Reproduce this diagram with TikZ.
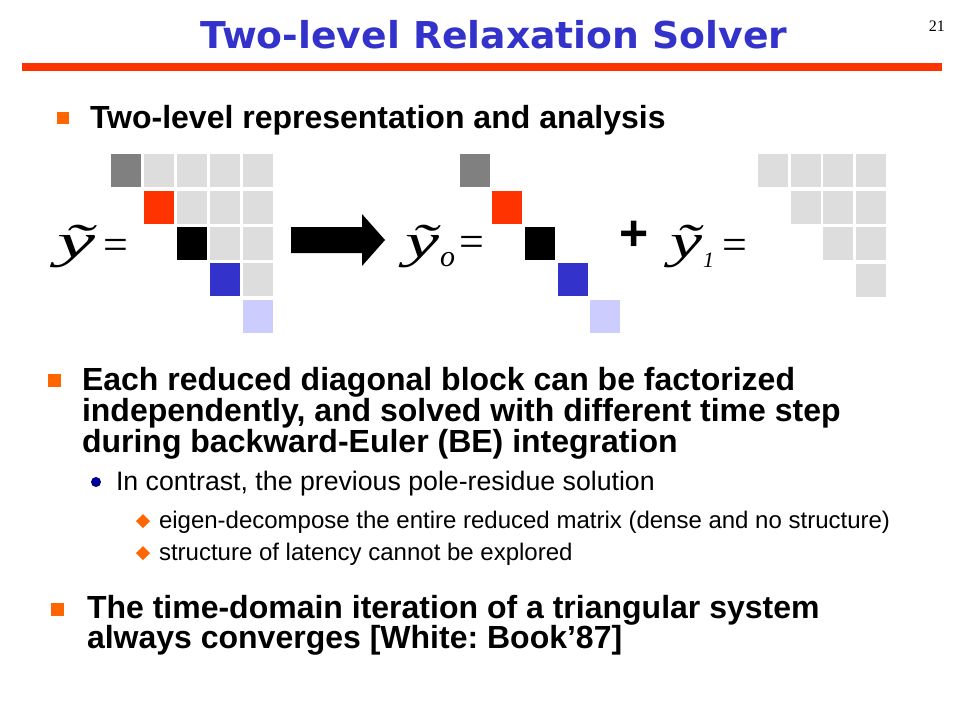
\documentclass[tikz,border=0pt]{standalone}
\usepackage{fontspec}
\usepackage{graphicx}
\setmainfont{Liberation Sans}
\newfontfamily\titlefont{DejaVu Sans}
\newfontfamily\serifface{Liberation Serif}
\frenchspacing
\definecolor{titleblue}{HTML}{3333CC}
\definecolor{barred}{HTML}{FF3300}
\definecolor{bulletorange}{HTML}{FF6600}
\definecolor{dotblue}{HTML}{000099}
\definecolor{cellgray}{HTML}{DDDDDD}
\definecolor{celldark}{HTML}{808080}
\definecolor{cellred}{HTML}{FF3300}
\definecolor{cellblue}{HTML}{3333CC}
\definecolor{celllight}{HTML}{CCCCFF}
\tikzset{
  txt/.style={anchor=base west, inner sep=0pt, outer sep=0pt},
  boldline/.style={txt, font=\fontsize{32pt}{32pt}\selectfont\bfseries},
  lvltwo/.style={txt, font=\fontsize{26.7pt}{26.7pt}\selectfont},
  lvlthree/.style={txt, font=\fontsize{24pt}{24pt}\selectfont},
  eqy/.style={txt, font=\serifface\itshape\fontsize{48pt}{48pt}\selectfont},
  eqsign/.style={txt, font=\serifface\fontsize{44pt}{44pt}\selectfont},
  sqbullet/.style={fill=bulletorange},
}
\newcommand\mycell[3]{\fill[#3] (#1,#2) rectangle ++(30,33);}
\begin{document}
\begin{tikzpicture}[x=1pt,y=-1pt]
\useasboundingbox (0,0) rectangle (960,720);
\fill[white] (0,0) rectangle (960,720);

% title
\node[anchor=base, inner sep=0pt, text=titleblue,
      font=\titlefont\bfseries\fontsize{37pt}{37pt}\selectfont] (title) at (494,48)
  {\resizebox{587pt}{\height}{Two-level Relaxation Solver}};
\node[anchor=base east, inner sep=0pt, font=\serifface\fontsize{16pt}{16pt}\selectfont] (pagenum) at (945,31) {21};
\fill[barred] (22,63) rectangle (942,71);

% bullet 1
\fill[sqbullet] (57,112) rectangle (69,124);
\node[boldline] (b1) at (90,128) {Two-level representation and analysis};

% left matrix
\mycell{111}{154}{celldark}
\foreach \x in {144,177,210,243} {\mycell{\x}{154}{cellgray}}
\mycell{144}{191}{cellred}
\foreach \x in {177,210,243} {\mycell{\x}{191}{cellgray}}
\mycell{177}{227}{black}
\foreach \x in {210,243} {\mycell{\x}{227}{cellgray}}
\mycell{210}{263}{cellblue}
\mycell{243}{263}{cellgray}
\mycell{243}{300}{celllight}

% equation left
\node[eqy] (yt) at (57,257) {\resizebox{38pt}{\height}{\~{y}}};
\node[eqsign] (eqa) at (103,259) {=};

% block arrow
\fill[black] (291,227) -- (362,227) -- (362,214) -- (385,240) -- (362,266) -- (362,253) -- (291,253) -- cycle;

% middle equation
\node[eqy] (yo) at (405,257) {\resizebox{34pt}{\height}{\~{y}}};
\node[txt, font=\serifface\itshape\fontsize{30pt}{30pt}\selectfont] (subo) at (440,266) {o};
\node[eqsign] (eqb) at (459,256) {=};

% middle matrix
\mycell{460}{154}{celldark}
\mycell{492}{191}{cellred}
\mycell{525}{227}{black}
\mycell{558}{263}{cellblue}
\mycell{590}{300}{celllight}

% plus
\node[inner sep=0pt, font=\bfseries\fontsize{50pt}{50pt}\selectfont] (plus) at (634,236) {+};

% right equation
\node[eqy] (yone) at (670,257) {\resizebox{32pt}{\height}{\~{y}}};
\node[txt, font=\serifface\itshape\fontsize{22pt}{22pt}\selectfont] (subone) at (703,267) {1};
\node[eqsign] (eqc) at (722,259) {=};

% right matrix
\foreach \x in {758,791,823,856} {\mycell{\x}{154}{cellgray}}
\foreach \x in {791,823,856} {\mycell{\x}{191}{cellgray}}
\foreach \x in {823,856} {\mycell{\x}{227}{cellgray}}
\mycell{856}{264}{cellgray}

% bullet 2
\fill[sqbullet] (48,374) rectangle (61,387);
\node[boldline] (b2a) at (82,390) {Each reduced diagonal block can be factorized};
\node[boldline] (b2b) at (82,421) {independently, and solved with different time step};
\node[boldline] (b2c) at (82,452) {during backward-Euler (BE) integration};

\fill[dotblue] (96,482) circle (5);
\node[lvltwo] (s1) at (116,490) {In contrast, the previous pole-residue solution};

\fill[bulletorange] (143,514) -- (150,521) -- (143,528) -- (136,521) -- cycle;
\node[lvlthree] (t1) at (159,528) {eigen-decompose the entire reduced matrix (dense and no structure)};
\fill[bulletorange] (143,546) -- (150,553) -- (143,560) -- (136,553) -- cycle;
\node[lvlthree] (t2) at (159,560) {structure of latency cannot be explored};

% bullet 3
\fill[sqbullet] (51,603) rectangle (64,616);
\node[boldline] (b3a) at (87,618) {The time-domain iteration of a triangular system};
\node[boldline] (b3b) at (87,648) {always converges [White: Book’87]};
\end{tikzpicture}
\end{document}
